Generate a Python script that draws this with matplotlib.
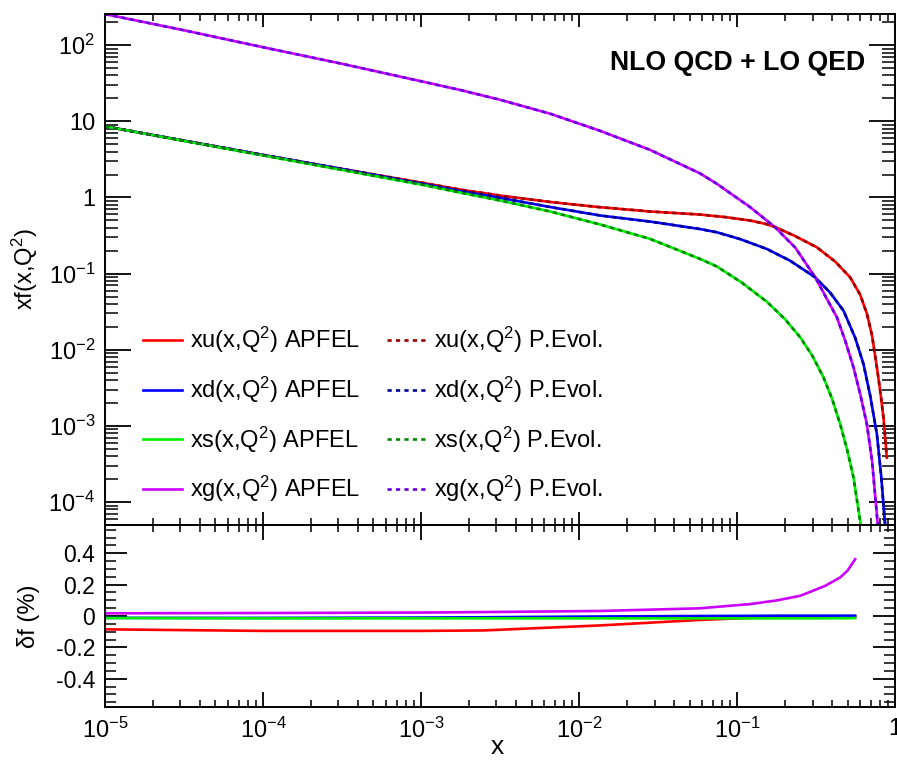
import numpy as np
import matplotlib
matplotlib.use("Agg")
import matplotlib.pyplot as plt
from matplotlib.ticker import LogLocator, MultipleLocator, FuncFormatter, NullFormatter

plt.rcParams['font.family'] = ['Liberation Sans', 'DejaVu Sans']
plt.rcParams['mathtext.fontset'] = 'custom'
plt.rcParams['mathtext.rm'] = 'Liberation Sans'
plt.rcParams['mathtext.it'] = 'Liberation Sans:italic'
plt.rcParams['mathtext.bf'] = 'Liberation Sans:bold'

# --- top panel: xf(x,Q^2) ---
x_u = [1e-5, 1e-4, 3.16e-4, 1e-3, 1.77e-3, 3.16e-3, 6.55e-3, 0.0136, 0.0281, 0.0583, 0.0839,
       0.121, 0.150, 0.174, 0.233, 0.319, 0.417, 0.519, 0.6, 0.662, 0.714, 0.766, 0.804, 0.843, 0.885]
xu = [8.59, 3.62, 2.37, 1.57, 1.27, 1.06, 0.873, 0.745, 0.655, 0.597, 0.553,
      0.498, 0.452, 0.409, 0.311, 0.222, 0.144, 0.0893, 0.053, 0.0298, 0.0153, 5.85e-3, 2.88e-3, 1.28e-3, 3.83e-4]

x_d = [1e-5, 1e-4, 3.16e-4, 1e-3, 1.77e-3, 3.16e-3, 6.55e-3, 0.0136, 0.0281, 0.0583, 0.0745, 0.1045,
       0.154, 0.216, 0.312, 0.388, 0.471, 0.558, 0.63, 0.695, 0.766, 0.815, 0.865]
xd = [8.59, 3.62, 2.37, 1.53, 1.22, 0.99, 0.75, 0.58, 0.483, 0.385, 0.349, 0.284,
      0.211, 0.148, 0.0893, 0.0562, 0.0326, 0.0144, 6.49e-3, 2.48e-3, 7.78e-4, 2.2e-4, 4.83e-5]

x_s = [1e-5, 1e-4, 3.16e-4, 1e-3, 1.77e-3, 3.16e-3, 6.55e-3, 0.0136, 0.0281, 0.0583, 0.0745,
       0.107, 0.154, 0.201, 0.251, 0.299, 0.352, 0.399, 0.449, 0.497, 0.545, 0.607]
xs = [8.59, 3.57, 2.3, 1.48, 1.16, 0.914, 0.655, 0.442, 0.286, 0.156, 0.124,
      0.0762, 0.0428, 0.0252, 0.0145, 8.34e-3, 4.33e-3, 2.26e-3, 1.05e-3, 4.83e-4, 2.09e-4, 4.83e-5]

x_g = [1e-5, 3.16e-5, 1e-4, 3.16e-4, 1e-3, 1.77e-3, 3.16e-3, 6.55e-3, 0.0136, 0.0281, 0.0583,
       0.0745, 0.121, 0.174, 0.233, 0.312, 0.428, 0.483, 0.545, 0.6, 0.662, 0.714, 0.777]
xg = [256, 157, 94, 57, 33.6, 25.8, 19.2, 12.6, 7.5, 4.22, 2.07,
      1.51, 0.745, 0.406, 0.22, 0.0893, 0.0266, 0.0131, 5.85e-3, 2.64e-3, 1.05e-3, 3.46e-4, 4.83e-5]

# --- bottom panel: relative difference in percent ---
x_rel = [1e-5, 1e-4, 1e-3, 2.5e-3, 0.0136, 0.058, 0.121, 0.18, 0.251, 0.36, 0.449, 0.5, 0.558]
df_u = [-0.085, -0.095, -0.095, -0.092, -0.06, -0.025, -0.012, -0.011, -0.01, -0.008, -0.007, -0.006, -0.005]
df_d = [-0.012, -0.012, -0.01, -0.008, -0.003, 0.0, 0.001, 0.002, 0.002, 0.002, 0.002, 0.002, 0.002]
df_s = [-0.013, -0.015, -0.015, -0.015, -0.015, -0.015, -0.015, -0.015, -0.015, -0.015, -0.014, -0.014, -0.013]
df_g = [0.017, 0.019, 0.022, 0.025, 0.032, 0.049, 0.076, 0.10, 0.129, 0.192, 0.246, 0.29, 0.362]

names = ['xu', 'xd', 'xs', 'xg']
solid_colors = ['#ff0000', '#0000ff', '#00ee00', '#cc00ff']
dash_colors = ['#990000', '#000099', '#008800', '#6600dd']

fig = plt.figure(figsize=(8.97, 7.62), dpi=100)
ax1 = fig.add_axes([0.117, 0.311, 0.881, 0.6705])
ax2 = fig.add_axes([0.117, 0.0722, 0.881, 0.2388])

lw = 1.9
top_data = [(x_u, xu), (x_d, xd), (x_s, xs), (x_g, xg)]
apfel_lines = []
pevol_lines = []
for (xx, yy), name, c in zip(top_data, names, solid_colors):
    l, = ax1.plot(xx, yy, color=c, lw=lw, label=name + r'(x,Q$^2$) APFEL')
    apfel_lines.append(l)
for (xx, yy), name, c in zip(top_data, names, dash_colors):
    l, = ax1.plot(xx, yy, color=c, lw=lw, dashes=(1.6, 1.6),
                  label=name + r'(x,Q$^2$) P.Evol.')
    pevol_lines.append(l)

ax1.set_xscale('log')
ax1.set_yscale('log')
ax1.set_xlim(1e-5, 1)
ax1.set_ylim(5e-5, 256)

ax1.text(0.962, 0.905, 'NLO QCD + LO QED', transform=ax1.transAxes,
         ha='right', va='center', fontsize=19.2, fontweight='bold')

handles = apfel_lines + pevol_lines
ax1.legend(handles, [l.get_label() for l in handles],
           ncol=2, loc='lower left', bbox_to_anchor=(0.048, 0.041), frameon=False,
           fontsize=17, handlelength=1.65, handletextpad=0.34, labelspacing=0.82,
           columnspacing=1.15, borderpad=0, borderaxespad=0)

for df, c in zip([df_u, df_d, df_s, df_g], solid_colors):
    ax2.plot(x_rel, df, color=c, lw=lw)
ax2.set_xscale('log')
ax2.set_xlim(1e-5, 1)
ax2.set_ylim(-0.58, 0.58)


def log_fmt(v, pos):
    e = int(round(np.log10(v)))
    if e == 0:
        return '1'
    if e == 1:
        return '10'
    return r'10$^{%d}$' % e


def lin_fmt(v, pos):
    if abs(v) < 1e-9:
        return '0'
    return '%.1f' % v


for ax in (ax1, ax2):
    ax.xaxis.set_major_locator(LogLocator(base=10, numticks=10))
    ax.xaxis.set_minor_locator(LogLocator(base=10, subs=np.arange(2, 10), numticks=20))
    ax.xaxis.set_minor_formatter(NullFormatter())
    for s in ax.spines.values():
        s.set_linewidth(1.4)

ax1.yaxis.set_major_locator(LogLocator(base=10, numticks=12))
ax1.yaxis.set_minor_locator(LogLocator(base=10, subs=np.arange(2, 10), numticks=30))
ax1.yaxis.set_major_formatter(FuncFormatter(log_fmt))
ax1.yaxis.set_minor_formatter(NullFormatter())
ax1.xaxis.set_major_formatter(NullFormatter())

ax2.xaxis.set_major_formatter(FuncFormatter(log_fmt))
ax2.yaxis.set_major_locator(MultipleLocator(0.2))
ax2.yaxis.set_minor_locator(MultipleLocator(0.05))
ax2.yaxis.set_major_formatter(FuncFormatter(lin_fmt))

ax1.tick_params(axis='y', which='major', direction='in', length=18.5, width=1.3,
                left=True, right=True, labelsize=17, pad=7)
ax1.tick_params(axis='y', which='minor', direction='in', length=9.3, width=1.1,
                left=True, right=True)
ax1.tick_params(axis='x', which='major', direction='in', length=9.3, width=1.3,
                top=True, bottom=True)
ax1.tick_params(axis='x', which='minor', direction='in', length=4.7, width=1.1,
                top=True, bottom=True)

ax2.tick_params(axis='y', which='major', direction='in', length=15.8, width=1.3,
                left=True, right=True, labelsize=16.5, pad=7)
ax2.tick_params(axis='y', which='minor', direction='in', length=7.9, width=1.1,
                left=True, right=True)
ax2.tick_params(axis='x', which='major', direction='in', length=10.8, width=1.3,
                top=True, bottom=True, labelsize=17, pad=8)
ax2.tick_params(axis='x', which='minor', direction='in', length=5, width=1.1,
                top=True, bottom=True)

ax1.set_ylabel(r'xf(x,Q$^2$)', fontsize=17)
ax1.yaxis.set_label_coords(-0.082, 0.5)
ax2.set_ylabel(u'\u03b4f (%)', fontsize=17)
ax2.yaxis.set_label_coords(-0.082, 0.5)
ax2.set_xlabel('x', fontsize=19)
ax2.xaxis.set_label_coords(0.496, -0.155)

fig.savefig('out.png', dpi=100)
